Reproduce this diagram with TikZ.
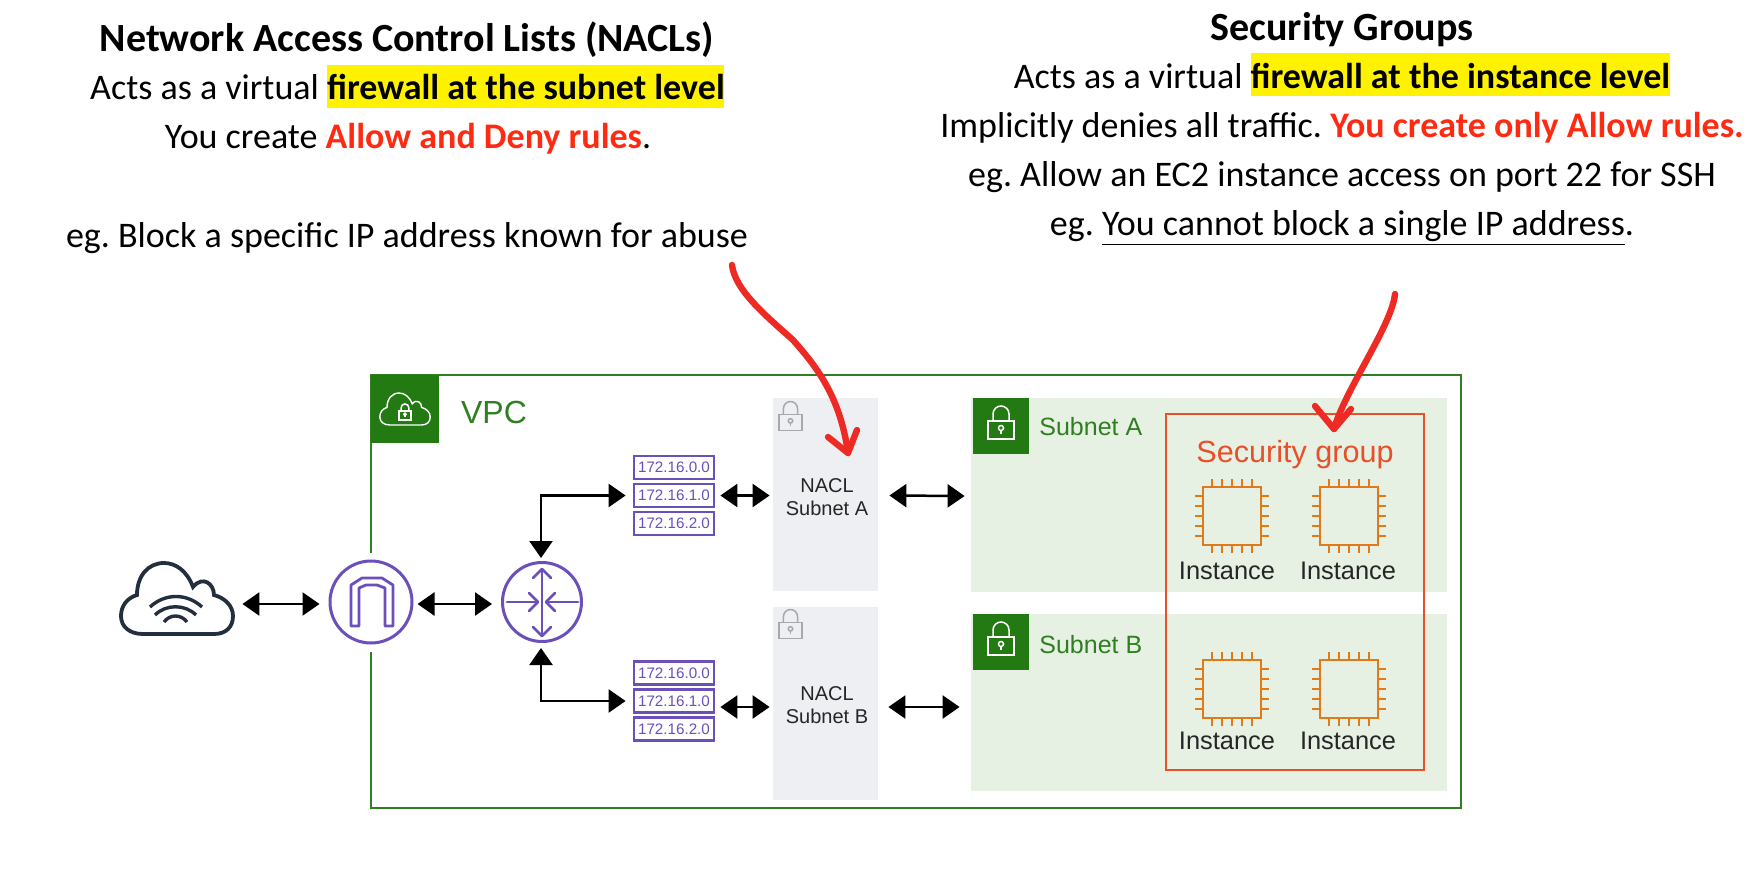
\documentclass[tikz,border=0pt]{standalone}
\usepackage{fontspec}
\setmainfont{Carlito}
\newfontfamily\arialf{Liberation Sans}
\usetikzlibrary{arrows.meta,calc}
\definecolor{vpcgreen}{HTML}{2F7F20}
\definecolor{tabgreen}{HTML}{237A12}
\definecolor{subfill}{HTML}{E6F1E4}
\definecolor{naclfill}{HTML}{EEEFF2}
\definecolor{purp}{HTML}{6B4FBB}
\definecolor{chipor}{HTML}{E07B1A}
\definecolor{sgred}{HTML}{E8502A}
\definecolor{hlyellow}{HTML}{FFF200}
\definecolor{inkred}{HTML}{FF2A12}
\definecolor{penred}{HTML}{EE2A24}
\definecolor{cloudink}{HTML}{232F3E}
\definecolor{lockgrey}{HTML}{A6A8AC}
\tikzset{
  x=0.5pt,y=-0.5pt,
  hl/.style={fill=hlyellow,draw=none,inner sep=0pt},
  head/.style={font=\fontsize{18}{22}\selectfont,inner sep=0pt,text=black,anchor=center},
  title/.style={font=\fontsize{20}{24}\selectfont\bfseries,inner sep=0pt,text=black,anchor=center},
  sub/.style={fill=subfill,draw=none,inner sep=0pt},
  naclbox/.style={fill=naclfill,draw=none,inner sep=0pt,minimum width=52.5pt,minimum height=96.5pt},
  tab/.style={fill=tabgreen,draw=none,inner sep=0pt},
  ipbox/.style={draw=purp,line width=1.4pt,fill=white,text=purp,inner sep=0pt,minimum width=40pt,minimum height=11.5pt,font=\arialf\fontsize{7.6}{9}\selectfont},
  biarrow/.style={draw=black,line width=1.25pt,{Triangle[length=8.5pt,width=11.5pt]}-{Triangle[length=8.5pt,width=11.5pt]}},
  dtext/.style={font=\arialf\fontsize{10}{11.5}\selectfont,inner sep=0pt,align=center,text=black!85},
  instlabel/.style={font=\arialf\fontsize{12.7}{15}\selectfont,inner sep=0pt,text=black!85},
  subtext/.style={font=\arialf\fontsize{12.5}{15}\selectfont,inner sep=0pt,text=vpcgreen},
  pen/.style={draw=penred,line width=3.2pt,line cap=round,line join=round},
  chip/.pic={
    \draw[chipor,line width=1.3pt] (-29,-29) rectangle (29,29);
    \foreach \t in {-20,-10,0,10,20}{
      \draw[chipor,line width=1.3pt] (\t,-29) -- (\t,-37);
      \draw[chipor,line width=1.3pt] (\t,29) -- (\t,37);
      \draw[chipor,line width=1.3pt] (-29,\t) -- (-37,\t);
      \draw[chipor,line width=1.3pt] (29,\t) -- (37,\t);
    }
  },
  padlock/.pic={
    \draw[line width=.75pt] (-13,-6) rectangle (13,12);
    \draw[line width=.75pt] (-8,-6) -- (-8,-13) arc[start angle=180,end angle=360,radius=8] -- (8,-6);
    \draw[line width=.75pt] (0,1) circle[radius=2.5];
    \draw[line width=.75pt] (0,3.5) -- (0,7);
  },
  cloudshape/.pic={
    \begin{scope}[shift={(-177,-598.5)}]
    \draw (143,634) -- (214,634)
      .. controls (226,634) and (233,627) .. (233,616)
      .. controls (233,606) and (225,598) .. (214,595)
      .. controls (214,584) and (203,575) .. (193,587)
      .. controls (187,571) and (176,563) .. (164,563)
      .. controls (148,563) and (137,576) .. (137,595)
      .. controls (127,598) and (121,606) .. (121,616)
      .. controls (121,627) and (130,634) .. (143,634) -- cycle;
    \end{scope}
  }
}
\begin{document}
\frenchspacing
\begin{tikzpicture}
\useasboundingbox (0,0) rectangle (1758,873);
% header left
\node[hl,minimum width=198.5pt,minimum height=21.5pt] (hlA) at (525.5,86.5) {};
\node[title] (t1) at (407,40) {Network Access Control Lists (NACLs)};
\node[head] (t2) at (407.5,87) {Acts as a virtual \textbf{firewall at the subnet level}};
\node[head] (t3) at (408,139) {You create \textbf{\textcolor{inkred}{Allow and Deny rules}}.};
\node[head] (t4) at (407,238) {eg. Block a specific IP address known for abuse};
% header right
\node[hl,minimum width=209.5pt,minimum height=21.5pt] (hlB) at (1460.5,74.5) {};
\node[title] (r1) at (1342,30) {Security Groups};
\node[head] (r2) at (1342,76) {Acts as a virtual \textbf{firewall at the instance level}};
\node[head] (r3) at (1342,128) {Implicitly denies all traffic. \textbf{\textcolor{inkred}{You create only Allow rules.}}};
\node[head] (r4) at (1342,177) {eg. Allow an EC2 instance access on port 22 for SSH};
\node[head] (r5) at (1342,228) {eg. \underline{You cannot block a single IP address}.};
% VPC
\node[draw=vpcgreen,line width=1pt,fill=none,minimum width=545pt,minimum height=216.5pt,inner sep=0pt] (vpc) at (916,591.5) {};
\node[tab,minimum width=34pt,minimum height=34pt] (vpctab) at (405,409) {};
\node[font=\arialf\fontsize{16}{19}\selectfont,text=vpcgreen,inner sep=0pt] (vpclabel) at (494,412) {VPC};
\path (vpctab.center) pic[white,scale=.45,line width=.7pt]{cloudshape};
\path (405,414) pic[white,scale=.48]{padlock};
% subnets
\node[sub,minimum width=238pt,minimum height=97pt] (subA) at (1209,495) {};
\node[sub,minimum width=238pt,minimum height=88.5pt] (subB) at (1209,702.5) {};
\node[tab,minimum width=28pt,minimum height=28pt] (tabA) at (1001,426) {};
\node[tab,minimum width=28pt,minimum height=28pt] (tabB) at (1001,642) {};
\path (tabA.center) ++(0,1) pic[white]{padlock};
\path (tabB.center) ++(0,1) pic[white]{padlock};
\node[subtext,anchor=west] (subAl) at (1039,427) {Subnet A};
\node[subtext,anchor=west] (subBl) at (1039,645) {Subnet B};
% NACLs
\node[naclbox] (naclA) at (825.5,494.5) {};
\node[naclbox] (naclB) at (825.5,703) {};
\path (790.5,420) pic[lockgrey,scale=.88]{padlock};
\path (790.5,628) pic[lockgrey,scale=.88]{padlock};
\node[dtext] (naclAl) at (827,497) {NACL\\Subnet A};
\node[dtext] (naclBl) at (827,705) {NACL\\Subnet B};
% security group
\node[draw=sgred,line width=1.1pt,minimum width=129pt,minimum height=178pt,inner sep=0pt] (sg) at (1295,592) {};
\node[font=\arialf\fontsize{15.3}{18}\selectfont,text=sgred,inner sep=0pt] (sgl) at (1295,455) {Security group};
\path (1232,516) pic{chip};
\path (1349,516) pic{chip};
\path (1232,689) pic{chip};
\path (1349,689) pic{chip};
\node[instlabel] (i1) at (1227,571) {Instance};
\node[instlabel] (i2) at (1348,571) {Instance};
\node[instlabel] (i3) at (1227,741) {Instance};
\node[instlabel] (i4) at (1348,741) {Instance};
% internet cloud
\node[inner sep=0pt,minimum width=56pt,minimum height=35.5pt] (cloud) at (177,598.5) {};
\path (cloud.center) pic[cloudink,line width=1.9pt]{cloudshape};
\draw[cloudink,line width=1.7pt] (150,607) .. controls (165,593) and (187,593) .. (202,607);
\draw[cloudink,line width=1.7pt] (155,615) .. controls (166,604) and (185,604) .. (196,615);
\draw[cloudink,line width=1.7pt] (164,622) .. controls (170,614) and (181,614) .. (187,622);
% IGW
\node[fill=white,draw=none,minimum width=7pt,minimum height=49.5pt,inner sep=0pt] (gap) at (371,602.5) {};
\node[circle,draw=purp,line width=1.5pt,fill=white,minimum size=41pt,inner sep=0pt] (igw) at (371,602) {};
\draw[purp,line width=1.4pt,line join=round] (351,626) -- (351,585) -- (362,578) -- (382,578) -- (393,585) -- (393,626) -- (385,626) -- (385,588) -- (377,585) -- (366,585) -- (359,588) -- (359,626) -- cycle;
% router
\node[circle,draw=purp,line width=1.5pt,fill=white,minimum size=39.5pt,inner sep=0pt] (rt) at (542,602) {};
\begin{scope}[purp,line width=1.4pt,line cap=round,line join=round]
\draw (542,569) -- (542,636);
\draw (533,578) -- (542,569) -- (551,578);
\draw (533,627) -- (542,636) -- (551,627);
\draw (507,602) -- (537,602);
\draw (529,593) -- (538,602) -- (529,611);
\draw (578,602) -- (547,602);
\draw (555,593) -- (546,602) -- (555,611);
\end{scope}
% IP tables
\node[ipbox] (a0) at (674,467.5) {172.16.0.0};
\node[ipbox] (a1) at (674,495.5) {172.16.1.0};
\node[ipbox] (a2) at (674,523.5) {172.16.2.0};
\node[ipbox] (b0) at (674,673) {172.16.0.0};
\node[ipbox] (b1) at (674,701) {172.16.1.0};
\node[ipbox] (b2) at (674,729) {172.16.2.0};
% connectors
\draw[biarrow] ($(cloud.east)+(9,5.5)$) -- ($(igw.west)+(-9,2)$);
\draw[biarrow] ($(igw.east)+(4,2)$) -- ($(rt.west)+(-9,2)$);
\draw[biarrow] ($(rt.north)+(-1,-3)$) |- ($(a1.west)+(-7,0)$);
\draw[biarrow] ($(rt.south)+(-1,5)$) |- ($(b1.west)+(-7,0)$);
\draw[biarrow] ($(a1.east)+(5,0)$) -- ($(naclA.west)+(-3,1)$);
\draw[biarrow] ($(b1.east)+(5,6)$) -- ($(naclB.west)+(-3,4)$);
\draw[biarrow] ($(naclA.east)+(11,1)$) -- ($(subA.west)+(-6,1)$);
\draw[biarrow] ($(naclB.east)+(10,4)$) -- ($(subB.west)+(-11,4.5)$);
% hand drawn arrows
\draw[pen] (732,265) .. controls (735,290) and (765,315) .. (793,340) .. controls (815,365) and (840,395) .. (848,453);
\draw[pen] (828,437) -- (848,453) -- (857,430);
\draw[pen] (1395,294) .. controls (1392,325) and (1345,390) .. (1334,429);
\draw[pen] (1315,406) -- (1334,429) -- (1351,409);
\end{tikzpicture}
\end{document}
